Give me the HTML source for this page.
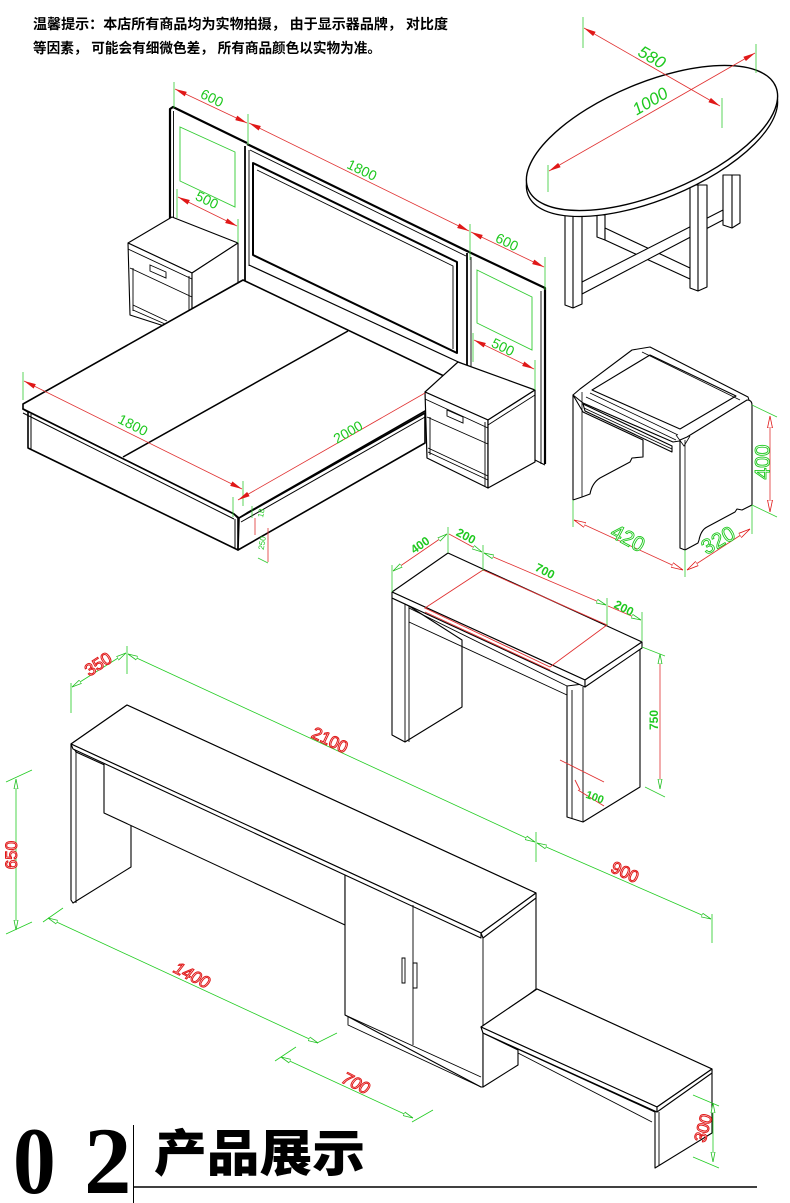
<!DOCTYPE html>
<html><head><meta charset="utf-8"><style>
html,body{margin:0;padding:0;background:#fff;}
svg{display:block}
</style></head><body>
<svg width="790" height="1203" viewBox="0 0 790 1203" xmlns="http://www.w3.org/2000/svg">
<defs>
<marker id="ar" viewBox="0 0 12 5" refX="12" refY="2.5" markerWidth="12" markerHeight="5" orient="auto-start-reverse" markerUnits="userSpaceOnUse"><path d="M0,0 L12,2.5 L0,5 Z" fill="#e01818"/></marker>
<marker id="ah" viewBox="0 0 12 6" refX="12" refY="3" markerWidth="12" markerHeight="6" orient="auto-start-reverse" markerUnits="userSpaceOnUse"><path d="M0,0.5 L12,3 L0,5.5 Z" fill="#fff" stroke="#e01818" stroke-width="0.8"/></marker>
<marker id="ag" viewBox="0 0 10 5" refX="10" refY="2.5" markerWidth="10" markerHeight="5" orient="auto-start-reverse" markerUnits="userSpaceOnUse"><path d="M0,0.5 L10,2.5 L0,4.5 Z" fill="#fff" stroke="#22c022" stroke-width="0.8"/></marker>
</defs>

<!-- top notice text -->
<g font-family="'Liberation Sans','Noto Sans CJK SC',sans-serif" font-weight="bold" font-size="14" fill="#000">
<text x="33" y="29" textLength="415" lengthAdjust="spacingAndGlyphs">温馨提示：本店所有商品均为实物拍摄， 由于显示器品牌， 对比度</text>
<text x="33" y="53" textLength="348" lengthAdjust="spacingAndGlyphs">等因素， 可能会有细微色差， 所有商品颜色以实物为准。</text>
</g>

<!-- ================= BED ================= -->
<g fill="none" stroke="#000" stroke-linejoin="round">
<path d="M170,219 V109 L173,107 L247,143" stroke-width="2.2"/>
<path d="M173.5,219 V111" stroke-width="0.9"/>
<path d="M245,146 V282" stroke-width="1.8"/>
<path d="M249,150 V266" stroke-width="0.9"/>
<path d="M247,144 L469,252" stroke-width="2.2"/>
<path d="M250,150 L466,256" stroke-width="0.9"/>
<path d="M253,163 L457,262 V353 L253,255 Z" stroke-width="2"/>
<path d="M257,170 L453,266 V349" stroke-width="0.9"/>
<path d="M249,265 L467,366" stroke-width="1.2"/>
<path d="M467,253 V368" stroke-width="1.8"/>
<path d="M471,257 V368" stroke-width="0.9"/>
<path d="M469,252 L545,288 V464" stroke-width="2.2"/>
<path d="M541,291 V464" stroke-width="0.9"/>
<path d="M535,460 L545,465" stroke-width="1"/>
</g>
<g fill="none" stroke="#3c3" stroke-width="0.9">
<path d="M180,127 L235,152 V207 L180,181 Z"/>
<path d="M477,270 L532,297 V350 L477,323 Z"/>
</g>

<!-- left nightstand -->
<g stroke="#000" stroke-width="1.1" fill="#fff" stroke-linejoin="round">
<path d="M172,217 L238,243 L192,273 L128,243 Z"/>
<path d="M128,243 L192,273 V335 L130,315 Z"/>
<path d="M192,273 L238,243 V305 L192,335 Z"/>
</g>
<g stroke="#000" stroke-width="0.9" fill="none">
<path d="M128,249 L192,279 M130,268 L192,297 M133,268 V311 M133,305 L167,321 M133,310 L165,324 M189,276 V330"/>
<path d="M150,265 L166,272 V278 L150,271 Z"/>
</g>

<!-- bed body -->
<g stroke="#000" stroke-width="1.6" fill="#fff" stroke-linejoin="round">
<path d="M23,404 L243,280 L467,387 L247,513 L239,518 L234,514 L23,409 Z"/>
<path d="M23,409 L234,514 L238,518 V550 L28,448 V412 Z"/>
<path d="M239,518 L425,413 V443 L238,550 Z"/>
</g>
<g stroke="#000" stroke-width="1" fill="none">
<path d="M23,413 L234,519"/>
<path d="M241,522 L425,417"/>
<path d="M31,414 V449"/>
<path d="M235,519 V549"/>
<path d="M123,457 L348,331" stroke-width="1.5"/>
</g>

<!-- right nightstand -->
<g stroke="#000" stroke-width="1.2" fill="#fff" stroke-linejoin="round">
<path d="M458,362 L535,390 L488,420 L425,392 Z"/>
<path d="M425,392 L488,420 V488 L427,458 Z"/>
<path d="M488,420 L535,390 V462 L488,488 Z"/>
</g>
<g stroke="#000" stroke-width="0.9" fill="none">
<path d="M425,399 L488,428 M427,417 L488,444 M428,448 L488,476 M428,452 L488,480 M485,422 V486 M488,425 L535,395 M430,417 V455"/>
<path d="M447,410 L463,417 V423 L447,416 Z"/>
</g>

<!-- bed dimensions -->
<g stroke="#3c3" stroke-width="0.8" fill="none">
<path d="M174,82 V108 M248,114 V145 M470,224 V260 M545,257 V290"/>
<path d="M177,189 V218 M238,219 V243 M473,333 V362 M535,360 V390"/>
<path d="M23,372 V400 M243,481 V506 M233,497 V517"/>
<path d="M252,506 V518 M258,558 L268,563"/>
</g>
<g stroke="#e03030" stroke-width="0.8" fill="none">
<path d="M175,89 L247,123" marker-start="url(#ar)" marker-end="url(#ar)"/>
<path d="M249,123 L469,231" marker-start="url(#ar)" marker-end="url(#ar)"/>
<path d="M471,232 L544,267" marker-start="url(#ar)" marker-end="url(#ar)"/>
<path d="M178,197 L237,226" marker-start="url(#ar)" marker-end="url(#ar)"/>
<path d="M474,340 L534,369" marker-start="url(#ar)" marker-end="url(#ar)"/>
<path d="M24,381 L242,489" marker-start="url(#ar)" marker-end="url(#ar)"/>
<path d="M238,500 L425,393" marker-start="url(#ar)"/>
<path d="M255,518 V535 M268,528 V562"/>
</g>
<g font-family="'Liberation Sans Narrow','Liberation Sans',sans-serif" font-size="14" fill="#1ec81e" text-anchor="middle">
<text x="212" y="98" dy=".35em" transform="rotate(26 212 98)">600</text>
<text x="362" y="170" dy=".35em" transform="rotate(26 362 170)">1800</text>
<text x="507" y="242" dy=".35em" transform="rotate(26 507 242)">600</text>
<text x="207" y="200" dy=".35em" transform="rotate(26 207 200)">500</text>
<text x="503" y="347" dy=".35em" transform="rotate(26 503 347)">500</text>
<text x="133" y="425" dy=".35em" transform="rotate(27 133 425)">1800</text>
<text x="348" y="432" dy=".35em" transform="rotate(-30 348 432)">2000</text>
<text x="261" y="513" dy=".35em" font-size="8" transform="rotate(-80 261 513)">18</text>
<text x="262" y="543" dy=".35em" font-size="8" transform="rotate(-80 262 543)">250</text>
</g>

<!-- ================= OVAL TABLE ================= -->
<g stroke="#000" stroke-width="1.1" fill="#fff" stroke-linejoin="round">
<path d="M723,175 V225 L732,228 L740,223 V175 Z"/>
<path d="M597,215 V237 L605,240 V215 Z"/>
<path d="M605,228 L690,268 V279 L605,240 Z"/>
<path d="M582,282 L723,210 V220 L582,294 Z"/>
<path d="M565,200 V305 L573,308 L582,304 V200 Z"/>
<path d="M690,185 V288 L698,291 L707,287 V185 Z"/>
<path d="M573,200 V308 M698,185 V291 M732,175 V228" fill="none"/>
</g>
<g transform="translate(652,144) rotate(-22.5)"><ellipse cx="0" cy="0" rx="134" ry="55.5" fill="#fff" stroke="#000" stroke-width="1.3"/></g>
<g transform="translate(652,138) rotate(-22.5)"><ellipse cx="0" cy="0" rx="134" ry="55.5" fill="#fff" stroke="#000" stroke-width="1.4"/></g>
<g stroke="#3c3" stroke-width="0.8" fill="none">
<path d="M548,165 V192 M756,44 V73 M583,17 V48 M722,98 V128"/>
</g>
<g stroke="#e03030" stroke-width="0.8" fill="none">
<path d="M549,171 L755,53" marker-start="url(#ar)" marker-end="url(#ar)"/>
<path d="M584,28 L720,106" marker-start="url(#ar)" marker-end="url(#ar)"/>
</g>
<g font-family="'Liberation Sans',sans-serif" font-size="17" fill="#1ec81e" text-anchor="middle" font-style="italic">
<text x="652" y="57" dy=".35em" transform="rotate(30 652 57)">580</text>
<text x="650" y="101" dy=".35em" transform="rotate(-30 650 101)">1000</text>
</g>

<!-- ================= STOOL ================= -->
<g stroke="#000" stroke-width="1.1" fill="#fff" stroke-linejoin="round">
<path d="M573,395 L580,389 L632,350 L650,347 L748,397 L750,403 L686,440 L673,442 L583,403 Z"/>
<path d="M592,390 L650,355 L736,396 L680,429 Z"/>
<path d="M573,395 V500 L582,497 L590,494 Q592,483 600,478 L630,462 L632,458 L643,457 V440 L583,412 Z"/>
<path d="M583,404 L672,446 V452 L585,411 Z"/>
<path d="M680,440 L687,437 L747,400 Q752,400 752,405 V505 L742,510 L737,509 L735,512 L707,527 Q701,530 699,540 L698,543 L685,550 L680,548 Z"/>
</g>
<g stroke="#000" stroke-width="0.8" fill="none">
<path d="M582,392 V497 M685,440 V550 M586,397 L676,440 M590,393 L678,435 M642,352 L740,400 M584,408 L672,449"/>
<path d="M676,435 L684,446 L690,436"/>
</g>
<g stroke="#3c3" stroke-width="0.8" fill="none">
<path d="M752,405 L777,417 M752,505 L777,517 M573,500 V527 M685,550 V577 M752,505 V534"/>
</g>
<g stroke="#e03030" stroke-width="0.8" fill="none">
<path d="M770,416 V512" marker-start="url(#ah)" marker-end="url(#ah)"/>
<path d="M574,520 L683,570" marker-start="url(#ah)" marker-end="url(#ah)"/>
<path d="M687,570 L750,529" marker-start="url(#ah)" marker-end="url(#ah)"/>
</g>
<g font-family="'Liberation Sans',sans-serif" font-size="21" fill="#fff" stroke="#1ec81e" stroke-width="0.9" text-anchor="middle">
<text x="762" y="462" dy=".35em" transform="rotate(-90 762 462)">400</text>
<text x="628" y="538" dy=".35em" transform="rotate(28 628 538)">420</text>
<text x="718" y="540" dy=".35em" transform="rotate(-30 718 540)">320</text>
</g>

<!-- ================= CONSOLE TABLE ================= -->
<g stroke="#000" stroke-width="1.1" fill="#fff" stroke-linejoin="round">
<path d="M392,598 V735 L405,742 L462,707 V640 L409,606 Z"/>
<path d="M567,686 V817 L583,822 L640,787 V648 L583,684 Z"/>
<path d="M392,592 L448,553 L642,642 L585,680 Z"/>
<path d="M392,592 L585,680 V687 L392,598 Z"/>
<path d="M585,680 L642,642 V648 L585,687 Z"/>
</g>
<g stroke="#000" stroke-width="0.9" fill="none">
<path d="M405,604 V742 M409,606 V742 M409,608 L567,686 M409,622 L567,695 M572,690 V819 M583,687 V822"/>
</g>
<g stroke="#e03030" stroke-width="0.9" fill="none">
<path d="M425,608 L483,570 L607,625 L550,667 Z"/>
<path d="M425,612 L550,670"/>
<path d="M560,760 L604,782 M578,790 L604,806 M580,790 L575,780"/>
</g>
<g stroke="#3c3" stroke-width="0.8" fill="none">
<path d="M392,565 V592 M448,527 V553 M483,545 V571 M607,598 V625 M642,612 V641"/>
<path d="M642,647 L665,656 M645,787 L665,797"/>
</g>
<g stroke="#e03030" stroke-width="0.8" fill="none">
<path d="M393,571 L447,534" marker-start="url(#ag)" marker-end="url(#ag)"/>
<path d="M449,534 L482,552" marker-end="url(#ag)"/>
<path d="M484,553 L606,605" marker-start="url(#ag)" marker-end="url(#ag)"/>
<path d="M608,606 L641,620" marker-end="url(#ag)"/>
<path d="M660,654 V789" marker-start="url(#ag)" marker-end="url(#ag)"/>
</g>
<g font-family="'Liberation Sans Narrow','Liberation Sans',sans-serif" font-size="12" font-weight="bold" fill="#1ec81e" text-anchor="middle">
<text x="420" y="545" dy=".35em" transform="rotate(-35 420 545)">400</text>
<text x="466" y="536" dy=".35em" transform="rotate(28 466 536)">200</text>
<text x="545" y="571" dy=".35em" transform="rotate(27 545 571)">700</text>
<text x="624" y="608" dy=".35em" transform="rotate(27 624 608)">200</text>
<text x="654" y="720" dy=".35em" transform="rotate(-90 654 720)">750</text>
<text x="595" y="797" dy=".35em" font-size="11" transform="rotate(20 595 797)">100</text>
</g>

<!-- ================= BIG DESK ================= -->
<g stroke="#000" stroke-width="1.1" fill="#fff" stroke-linejoin="round">
<path d="M76,752 L131,777 V867 L73,903 L71,900 V744 Z"/>
<path d="M104,763 L345,873 V925 L104,813 Z"/>
<path d="M71,744 L127,705 L536,893 V989 L483,1030 V1087 L481,1087 L345,1015 V873 L76,750 Z"/>
<path d="M71,744 L127,705 L536,893 L481,933 Z"/>
<path d="M71,744 L481,933 V938 L73,749 Z"/>
<path d="M481,933 L536,893 V898 L483,938 Z"/>
</g>
<g stroke="#000" stroke-width="0.9" fill="none">
<path d="M76,750 V903 M131,827 V867 M345,875 V1015 M413,905 V1045 M483,938 V1087 M345,1015 L481,1077 M348,1017 V1025 L481,1087"/>
<path d="M402,958 h3 v25 h-3 Z M413,963 h4 v25 h-4 Z"/>
</g>
<!-- bench -->
<g stroke="#000" stroke-width="1.1" fill="#fff" stroke-linejoin="round">
<path d="M483,1033 L518,1050 V1065 L483,1087 Z"/>
<path d="M537,989 L712,1069 V1133 L655,1168 V1112 L483,1033 L481,1027 Z"/>
<path d="M537,989 L712,1069 L657,1107 L481,1027 Z"/>
<path d="M481,1027 L657,1107 V1112 L483,1033 Z"/>
<path d="M657,1107 L712,1069 V1073 L657,1112 Z"/>
</g>
<g stroke="#000" stroke-width="0.9" fill="none">
<path d="M518,1050 V1065 M655,1112 V1168 M659,1112 V1166 M518,1053 L652,1122"/>
</g>
<!-- desk dims -->
<g stroke="#2c2" stroke-width="0.8" fill="none">
<path d="M71,683 V713 M127,646 V674 M536,832 V862 M712,914 V943"/>
<path d="M6,782 L32,770 M6,934 L32,922 M43,922 L63,908 M317,1043 L337,1033 M275,1061 L296,1047 M412,1122 L433,1110"/>
<path d="M693,1095 L719,1106 M693,1157 L719,1168"/>
<path d="M72,687 L126,653" marker-start="url(#ag)" marker-end="url(#ag)"/>
<path d="M128,654 L535,842" marker-start="url(#ag)" marker-end="url(#ag)"/>
<path d="M537,843 L711,919" marker-start="url(#ag)" marker-end="url(#ag)"/>
<path d="M16,779 V930" marker-start="url(#ag)" marker-end="url(#ag)"/>
<path d="M48,918 L318,1043" marker-start="url(#ag)" marker-end="url(#ag)"/>
<path d="M281,1057 L413,1118" marker-start="url(#ag)" marker-end="url(#ag)"/>
<path d="M713,1103 V1162" marker-start="url(#ag)" marker-end="url(#ag)"/>
</g>
<g font-family="'Liberation Sans',sans-serif" font-size="17" fill="#fff" stroke="#e01818" stroke-width="1" text-anchor="middle">
<text x="98" y="664" dy=".35em" transform="rotate(-33 98 664)">350</text>
<text x="330" y="740" dy=".35em" transform="rotate(26 330 740)">2100</text>
<text x="625" y="872" dy=".35em" transform="rotate(25 625 872)">900</text>
<text x="11" y="855" dy=".35em" transform="rotate(-90 11 855)">650</text>
<text x="192" y="975" dy=".35em" font-style="italic" transform="rotate(27 192 975)">1400</text>
<text x="356" y="1083" dy=".35em" font-style="italic" transform="rotate(27 356 1083)">700</text>
<text x="703" y="1128" dy=".35em" transform="rotate(-75 703 1128)">300</text>
</g>

<!-- ================= TITLE ================= -->
<g fill="#000">
<text x="13" y="1193" font-family="'Liberation Serif',serif" font-weight="bold" font-size="95" transform="translate(13 0) scale(0.9 1) translate(-13 0)">0</text>
<text x="84" y="1193" font-family="'Liberation Serif',serif" font-weight="bold" font-size="95">2</text>
<text x="154" y="1171" font-family="'Liberation Sans','Noto Sans CJK SC',sans-serif" font-weight="900" font-size="50" textLength="211" lengthAdjust="spacingAndGlyphs">产品展示</text>
</g>
<path d="M133.5,1125 V1203" stroke="#000" stroke-width="1"/>
<path d="M133,1187 H757" stroke="#000" stroke-width="1.5"/>
</svg>
</body></html>
